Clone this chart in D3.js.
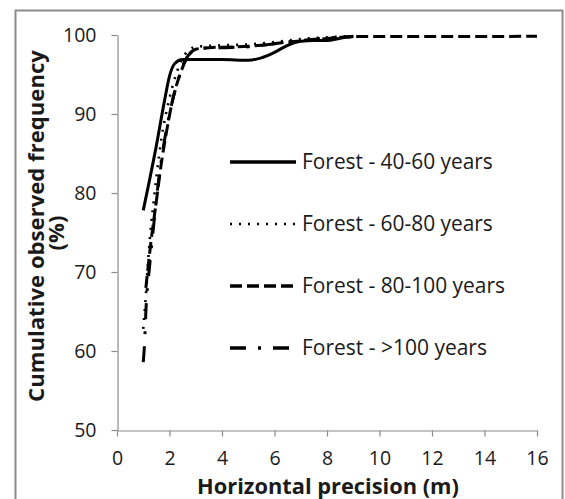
<!DOCTYPE html>
<html>
<head>
<meta charset="utf-8">
<script src="https://cdn.jsdelivr.net/npm/d3@7"></script>
<style>
  html, body { margin: 0; padding: 0; background: #fff; }
  svg { display: block; }
  text { font-family: "Open Sans", "Liberation Sans", sans-serif; fill: #1a1a1a; }
</style>
</head>
<body>
<svg id="chart" width="565" height="499"></svg>
<script>
// ---- data ----
const seriesNames = ["Forest - 40-60 years", "Forest - 60-80 years", "Forest - 80-100 years", "Forest - >100 years"];
const s40_60 = [[1.0,77.8],[1.2,81.0],[1.5,86.0],[1.8,91.5],[2.0,94.8],[2.2,96.4],[2.5,96.9],[3,96.9],[4,96.9],[5,96.8],[5.5,97.1],[6,97.8],[6.5,98.7],[7,99.2],[7.5,99.3],[8,99.3],[8.5,99.6],[9,99.8]];
const s60_80 = [[1.0,62.8],[1.1,67],[1.2,72],[1.3,76],[1.4,79],[1.5,82],[1.7,87],[2.0,92],[2.3,95.5],[2.6,97.6],[3,98.5],[4,98.7],[5,98.8],[6,99.1],[7,99.5],[8,99.7],[9,99.9]];
const s80_100 = [[1.1,68],[1.3,74],[1.5,79],[1.7,84],[1.9,88],[2.1,91.5],[2.4,95],[2.7,97.3],[3,98.2],[3.5,98.4],[4.5,98.5],[5.5,98.7],[6.5,99.1],[7.5,99.4],[8.5,99.7],[9,99.8],[10,99.8],[12,99.8],[14,99.8],[16,99.85]];
const s100p = [[1.0,58.6],[1.05,61],[1.1,65],[1.25,71],[1.4,76],[1.6,82],[1.8,86.5],[2.0,90],[2.3,94],[2.6,96.8],[2.9,98],[3.2,98.3],[4,98.4],[5,98.5],[6,98.9],[7,99.3],[8,99.6],[9,99.8]];
const seriesData = [s40_60, s60_80, s80_100, s100p];
const xTicks = [0,2,4,6,8,10,12,14,16];
const yTicks = [50,60,70,80,90,100];
const xTitle = "Horizontal precision (m)";
const yTitle1 = "Cumulative observed frequency";
const yTitle2 = "(%)";

// ---- styles ----
const styles = [
  {dash: null, width: 3, cap: "butt"},
  {dash: "2,7", width: 2.6, cap: "butt"},
  {dash: "12,5", width: 3, cap: "butt"},
  {dash: "16,12,3,12", width: 3, cap: "butt"}
];

const svg = d3.select("#chart");
// outer frame
svg.append("rect").attr("x", 15.5).attr("y", 10.5).attr("width", 547).attr("height", 520)
  .attr("fill", "none").attr("stroke", "#8c8c8c").attr("stroke-width", 2);

const x = d3.scaleLinear().domain([0,16]).range([117,537]);
const y = d3.scaleLinear().domain([50,100]).range([430,35]);

const axisColor = "#8a8a8a";
const gx = svg.append("g").attr("transform", "translate(0,430.5)")
  .call(d3.axisBottom(x).tickValues(xTicks).tickSize(6).tickPadding(15).tickSizeOuter(0));
const gy = svg.append("g").attr("transform", "translate(117.5,0)")
  .call(d3.axisLeft(y).tickValues(yTicks).tickSize(6).tickPadding(15).tickSizeOuter(0));
[gx, gy].forEach(g => {
  g.select(".domain").attr("stroke", axisColor).attr("stroke-width", 1.2);
  g.selectAll(".tick line").attr("stroke", axisColor).attr("stroke-width", 1.2);
  g.selectAll(".tick text").attr("font-size", 19.5).attr("font-family", "Open Sans").attr("fill", "#1a1a1a");
});

function fitText(sel, target) {
  const w = sel.node().getComputedTextLength();
  const fs = parseFloat(sel.attr("font-size"));
  sel.attr("font-size", fs * target / w);
}

const xt = svg.append("text").attr("x", 328).attr("y", 494).attr("text-anchor", "middle")
  .attr("font-weight", "bold").attr("font-size", 18).text(xTitle);
fitText(xt, 262);

const yt1 = svg.append("text").attr("transform", "translate(44,226) rotate(-90)").attr("text-anchor", "middle")
  .attr("font-weight", "bold").attr("font-size", 18).text(yTitle1);
fitText(yt1, 352);
const yt2 = svg.append("text").attr("transform", "translate(64,233) rotate(-90)").attr("text-anchor", "middle")
  .attr("font-weight", "bold").attr("font-size", yt1.attr("font-size")).text(yTitle2);

// lines
const line = d3.line().x(d => x(d[0])).y(d => y(d[1])).curve(d3.curveMonotoneX);
seriesData.forEach((data, i) => {
  const st = styles[i];
  svg.append("path").datum(data).attr("d", line)
    .attr("fill", "none").attr("stroke", "#000").attr("stroke-width", st.width)
    .attr("stroke-linecap", st.cap).attr("stroke-linejoin", "round")
    .attr("stroke-dasharray", st.dash);
});

// legend
const legendY = [162, 224, 286, 348];
const legendW = [191, 191, 203, 185];
seriesNames.forEach((name, i) => {
  const st = styles[i];
  svg.append("line").attr("x1", 230).attr("x2", 296).attr("y1", legendY[i]).attr("y2", legendY[i])
    .attr("stroke", "#000").attr("stroke-width", i === 1 ? 2.6 : 3.5).attr("stroke-dasharray", st.dash)
    .attr("stroke-linecap", st.cap);
  const t = svg.append("text").attr("x", 302).attr("y", legendY[i] + 6.5).attr("font-size", 18).text(name);
  fitText(t, legendW[i]);
});
</script>
</body>
</html>
